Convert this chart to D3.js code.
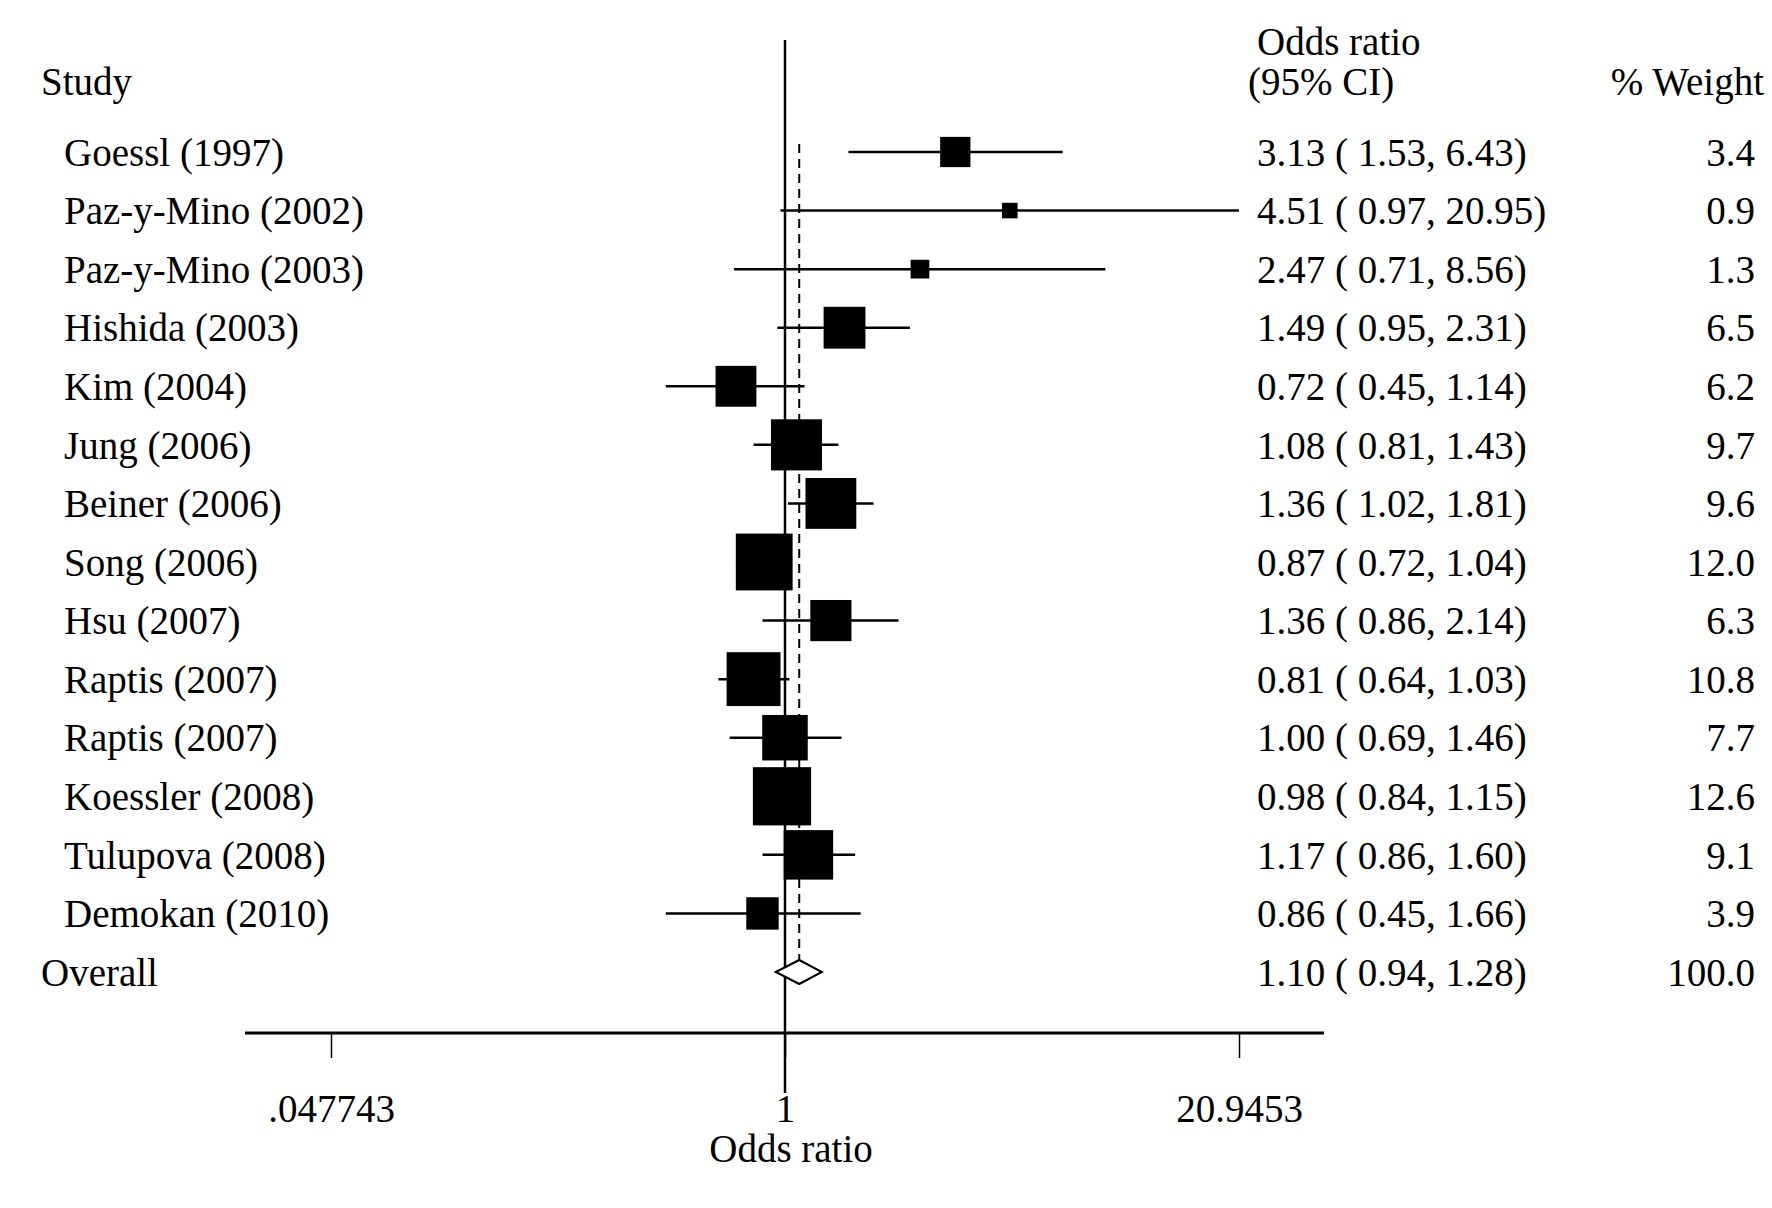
<!DOCTYPE html>
<html>
<head>
<meta charset="utf-8">
<script src="https://cdn.jsdelivr.net/npm/d3@7"></script>
<style>
  body { margin: 0; background: #fff; }
  text { font-family: "Liberation Serif", "Times New Roman", serif; fill: #000; }
</style>
</head>
<body>
<div id="chart"></div>
<script>
    // study data
    var studies = ["Goessl (1997)", "Paz-y-Mino (2002)", "Paz-y-Mino (2003)", "Hishida (2003)",
      "Kim (2004)", "Jung (2006)", "Beiner (2006)", "Song (2006)", "Hsu (2007)", "Raptis (2007)",
      "Raptis (2007)", "Koessler (2008)", "Tulupova (2008)", "Demokan (2010)"];
    var oddsRatio = [3.13, 4.51, 2.47, 1.49, 0.72, 1.08, 1.36, 0.87, 1.36, 0.81, 1.00, 0.98, 1.17, 0.86];
    var ciLow = [1.53, 0.97, 0.71, 0.95, 0.45, 0.81, 1.02, 0.72, 0.86, 0.64, 0.69, 0.84, 0.86, 0.45];
    var ciHigh = [6.43, 20.95, 8.56, 2.31, 1.14, 1.43, 1.81, 1.04, 2.14, 1.03, 1.46, 1.15, 1.60, 1.66];
    var weights = [3.4, 0.9, 1.3, 6.5, 6.2, 9.7, 9.6, 12.0, 6.3, 10.8, 7.7, 12.6, 9.1, 3.9];

    var overall = { label: "Overall", or: 1.10, lo: 0.94, hi: 1.28, weight: 100.0 };
    var tickValues = [0.047743, 1, 20.9453];
    var tickLabels = [".047743", "1", "20.9453"];

    var width = 1772, height = 1208, fs = 39;

    var svg = d3.select("#chart")
      .append("svg")
      .attr("width", width)
      .attr("height", height);

    // x: log scale for odds ratio
    var x = d3.scaleLog()
      .domain([tickValues[0], tickValues[2]])
      .range([331, 1239]);

    // y: one row per study, plus overall
    var y = d3.scaleLinear()
      .domain([0, 14])
      .range([152, 972]);

    var fmt = d3.format(".2f");

    // headers
    svg.append("text").attr("x", 41).attr("y", y(-1.2)).attr("dy", "0.35em")
      .attr("font-size", fs).text("Study");
    svg.append("text").attr("x", 1257).attr("y", 41).attr("dy", "0.35em")
      .attr("font-size", fs).text("Odds ratio");
    svg.append("text").attr("x", 1248).attr("y", y(-1.2)).attr("dy", "0.35em")
      .attr("font-size", fs).text("(95% CI)");
    svg.append("text").attr("x", 1764).attr("y", y(-1.2)).attr("dy", "0.35em")
      .attr("font-size", fs).attr("text-anchor", "end").text("% Weight");

    // null line
    svg.append("line")
      .attr("x1", x(1)).attr("x2", x(1))
      .attr("y1", 40).attr("y2", 1093)
      .attr("stroke", "#000").attr("stroke-width", 2.5);

    // overall effect dashed line
    svg.append("line")
      .attr("x1", x(overall.or)).attr("x2", x(overall.or))
      .attr("y1", y(0) - 8).attr("y2", y(14) - 12)
      .attr("stroke", "#000").attr("stroke-width", 2)
      .attr("stroke-dasharray", "9,6");

    var rows = studies.map(function (s, i) {
      return { label: s, or: oddsRatio[i], lo: ciLow[i], hi: ciHigh[i], weight: weights[i], i: i };
    });

    // CI lines
    svg.selectAll("line.ci")
      .data(rows)
      .enter()
      .append("line")
      .attr("class", "ci")
      .attr("x1", function (d) { return x(Math.max(d.lo, x.domain()[0])); })
      .attr("x2", function (d) { return x(Math.min(d.hi, x.domain()[1])); })
      .attr("y1", function (d) { return y(d.i); })
      .attr("y2", function (d) { return y(d.i); })
      .attr("stroke", "#000").attr("stroke-width", 2.5);

    // weight squares (area proportional to weight)
    var side = function (w) { return 16.4 * Math.sqrt(w); };
    svg.selectAll("rect.box")
      .data(rows)
      .enter()
      .append("rect")
      .attr("class", "box")
      .attr("x", function (d) { return x(d.or) - side(d.weight) / 2; })
      .attr("y", function (d) { return y(d.i) - side(d.weight) / 2; })
      .attr("width", function (d) { return side(d.weight); })
      .attr("height", function (d) { return side(d.weight); })
      .attr("fill", "#000");

    // overall diamond
    var oy = y(14);
    svg.append("path")
      .attr("d", "M" + x(overall.lo) + "," + oy +
        "L" + x(overall.or) + "," + (oy - 12) +
        "L" + x(overall.hi) + "," + oy +
        "L" + x(overall.or) + "," + (oy + 12) + "Z")
      .attr("fill", "#fff").attr("stroke", "#000").attr("stroke-width", 2);

    var allRows = rows.concat([Object.assign({ i: 14 }, overall)]);

    // study labels
    svg.selectAll("text.lab")
      .data(allRows)
      .enter()
      .append("text")
      .attr("class", "lab")
      .attr("x", function (d) { return d.i === 14 ? 41 : 64; })
      .attr("y", function (d) { return y(d.i); })
      .attr("dy", "0.35em")
      .attr("font-size", fs)
      .text(function (d) { return d.label; });

    // OR (95% CI) text
    svg.selectAll("text.ortxt")
      .data(allRows)
      .enter()
      .append("text")
      .attr("class", "ortxt")
      .attr("x", 1257)
      .attr("y", function (d) { return y(d.i); })
      .attr("dy", "0.35em")
      .attr("font-size", fs)
      .attr("xml:space", "preserve")
      .text(function (d) { return fmt(d.or) + " ( " + fmt(d.lo) + ", " + fmt(d.hi) + ")"; });

    // weight text
    svg.selectAll("text.wt")
      .data(allRows)
      .enter()
      .append("text")
      .attr("class", "wt")
      .attr("x", 1755)
      .attr("y", function (d) { return y(d.i); })
      .attr("dy", "0.35em")
      .attr("font-size", fs)
      .attr("text-anchor", "end")
      .text(function (d) { return d3.format(".1f")(d.weight); });

    // x axis
    var axisY = 1033;
    var xAxis = svg.append("g")
      .attr("transform", "translate(0," + axisY + ")")
      .call(d3.axisBottom(x).tickValues(tickValues)
        .tickFormat(function (d, i) { return tickLabels[i]; })
        .tickSize(25).tickPadding(36).tickSizeOuter(0));
    xAxis.select(".domain").remove();
    xAxis.selectAll(".tick line").attr("stroke", "#000").attr("stroke-width", 1.5);
    xAxis.selectAll(".tick text")
      .attr("font-size", fs)
      .attr("font-family", "Liberation Serif, Times New Roman, serif")
      .attr("fill", "#000");
    svg.append("line")
      .attr("x1", 245).attr("x2", 1324)
      .attr("y1", axisY).attr("y2", axisY)
      .attr("stroke", "#000").attr("stroke-width", 3);

    svg.append("text").attr("x", x(1) + 6).attr("y", 1148).attr("dy", "0.35em")
      .attr("font-size", fs).attr("text-anchor", "middle").text("Odds ratio");
</script>
</body>
</html>
